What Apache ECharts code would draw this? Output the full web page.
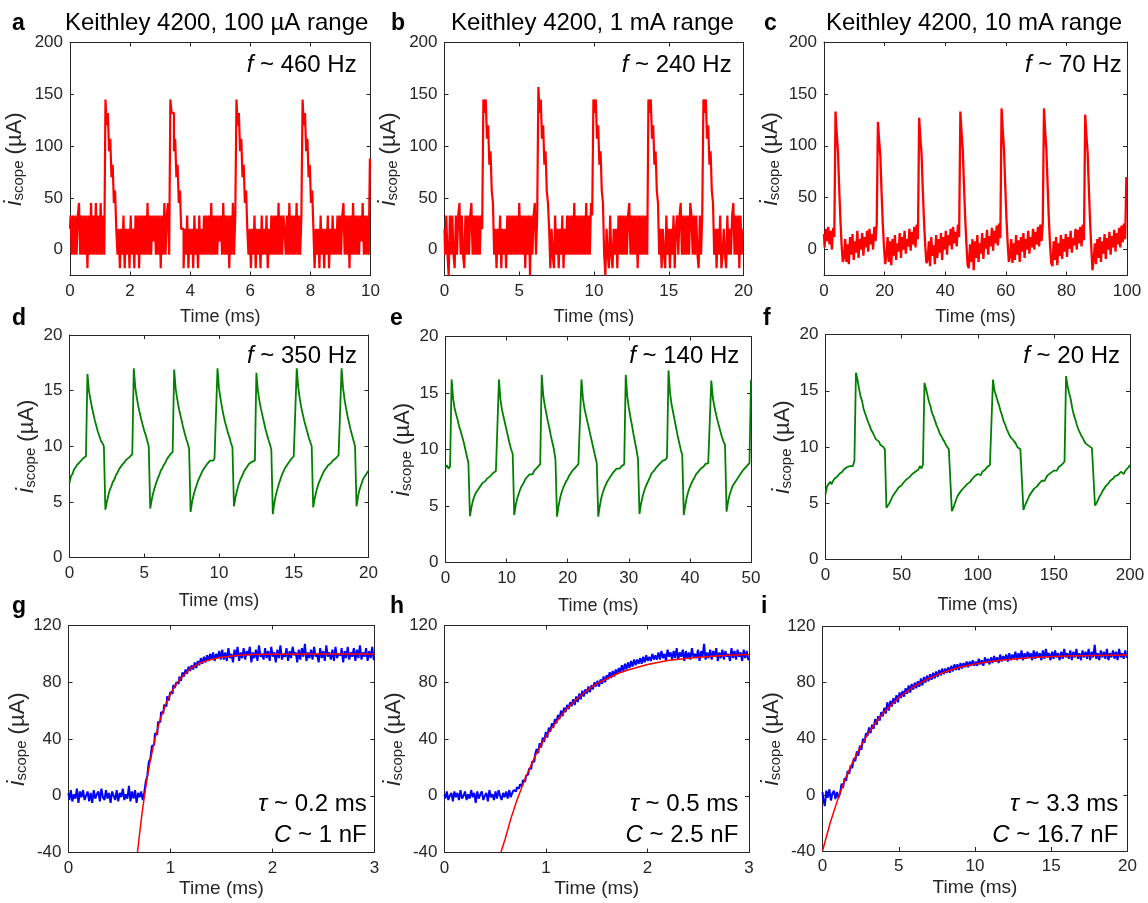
<!DOCTYPE html>
<html>
<head>
<meta charset="utf-8">
<script src="https://cdn.jsdelivr.net/npm/echarts@6/dist/echarts.min.js"></script>
<style>
  html, body { margin: 0; padding: 0; background: #ffffff; }
  #chart { width: 1148px; height: 903px; }
</style>
</head>
<body>
<div id="chart"></div>
<script>
// ---------- scope traces (current in µA), sampled at a fixed time step (ms) ----------

// a: 100 µA range
const stepA = 0.04;
const currentA = [20,33,-5,33,-5,33,-5,33,45,-5,33,-5,33,-5,33,-18,33,-5,45,-5,33,-5,45,-5,33,-5,45,-5,33,-5,
  145,120,132,95,107,70,82,45,57,20,
  -5,20,-18,20,-5,33,-18,20,-5,20,-18,33,-5,20,-18,33,-5,33,-18,33,
  -5,33,-5,33,-5,45,-5,33,-5,33,8,33,-5,33,-5,33,-18,33,-5,45,-5,33,45,-5,
  145,132,132,95,107,70,82,45,57,20,
  20,-18,20,-5,33,-18,20,-5,20,-18,33,-5,20,-18,33,-5,20,-5,33,-5,
  33,-5,33,-5,45,-5,33,-5,33,-5,33,8,33,-5,45,-5,33,-5,33,-18,33,-5,45,-5,33,
  145,120,132,95,107,70,82,45,57,20,
  -5,20,-18,20,-5,33,-18,20,-5,20,-18,33,-5,20,-5,33,-18,20,-5,33,
  -5,33,-5,33,-5,45,-5,33,-5,33,20,-5,33,-5,45,-5,33,-5,33,-5,45,-5,33,-5,33,
  145,120,132,95,107,70,82,45,57,20,
  -18,20,-5,20,-18,33,-5,20,-18,20,-5,33,-18,20,-5,33,-5,20,-5,33,
  -5,33,-5,33,45,-5,33,-5,33,-18,33,-5,45,-5,33,-5,33,-5,33,8,45,-5,33,-5,33,-5,
  88];

// b: 1 mA range
const stepB = 0.08;
const currentB = [20,-5,33,-5,-25,33,-5,33,-5,-18,33,-5,33,45,-5,33,-5,-18,33,-5,33,-5,33,45,-5,33,-5,33,-5,33,-5,33,20,
  145,132,145,107,120,82,95,57,45,
  -5,20,-18,20,-5,33,-18,20,-5,20,-18,33,-5,33,
  -5,33,-5,33,-5,33,-5,45,-5,33,-5,33,-18,33,-5,33,-25,33,-5,33,45,-5,33,
  157,132,145,107,120,82,95,57,45,
  20,-18,20,-5,-18,33,-5,20,-18,20,-5,33,-18,20,
  -5,33,-5,33,-5,33,-5,45,-5,33,-5,33,-5,33,-5,33,-5,45,-5,33,-5,45,33,
  145,132,145,107,120,82,95,57,45,
  -5,-25,20,-5,-18,33,-5,-18,20,-5,20,-18,33,-5,
  33,-5,33,-5,33,-5,33,45,-5,33,-5,33,-5,33,-18,33,-5,33,-5,33,-5,33,-5,
  145,132,145,107,120,82,95,57,45,
  -5,20,-18,20,-5,-18,33,-5,20,-18,20,-5,33,-18,
  20,33,-5,33,45,-5,33,-5,33,-5,33,-5,45,33,-5,33,-5,33,-5,-18,33,-5,33,
  145,132,145,107,120,82,95,57,45,
  -5,20,-18,20,-5,33,-18,-5,20,-5,-18,33,-5,20,
  -5,33,45,-5,33,-5,33,-18,33,-5,20];

// c: 10 mA range
const stepC = 0.4;
const currentC = [15,2,20,8,22,5,18,0,21,12,
  133,112,95,60,30,5,-12,
  -8,10,-12,5,-14,12,-5,15,-10,8,-3,18,-8,10,0,16,-6,12,2,18,-2,20,5,15,0,22,8,25,
  123,105,90,55,25,2,-14,
  -5,12,-12,8,-15,10,-6,14,-10,6,-2,16,-8,12,0,18,-4,10,3,20,-1,17,5,22,2,24,10,
  127,108,92,58,28,4,-13,
  -10,8,-16,12,-6,4,-14,14,-8,10,-3,16,-10,12,0,18,-5,14,4,20,0,22,6,17,3,24,12,
  133,113,96,62,30,6,-15,
  -18,5,-12,10,-20,8,-8,14,-12,6,-4,16,-9,11,1,19,-5,13,3,21,-1,18,6,23,4,25,11,
  136,115,97,63,31,7,-12,
  -7,10,-13,6,-10,14,-5,9,-12,12,-2,16,-8,10,0,18,-4,12,2,20,0,17,5,22,3,24,8,26,
  136,114,96,62,30,5,-13,
  -16,8,-10,12,-15,6,-6,14,-9,10,-2,15,-7,12,1,18,-3,11,4,20,0,19,6,22,3,24,9,
  130,110,94,60,28,3,-20,
  -10,6,-14,10,-8,12,-12,8,-4,15,-9,11,0,17,-5,13,2,19,-2,16,5,21,2,23,7,25,10,
  70];

// d: 100 µA range, slower sweep
const stepD = 0.1;
const currentD = [6.7,7.3,7.5,7.9,8.0,8.3,8.2,8.6,8.5,8.9,8.8,9.1,
  16.5,15.0,14.2,13.5,12.9,12.3,11.8,11.3,10.9,10.5,10.3,10.0,
  4.3,5.0,5.6,6.1,6.4,6.8,7.0,7.4,7.6,7.9,8.0,8.3,8.4,8.6,8.8,8.7,9.0,9.1,9.3,
  17.0,15.3,14.4,13.6,13.0,12.4,11.9,11.4,11.0,10.5,10.0,
  4.4,5.2,5.8,6.3,6.7,7.1,7.4,7.8,8.0,8.3,8.5,8.8,9.0,9.2,9.3,9.5,
  16.9,15.2,14.3,13.5,12.9,12.3,11.7,11.2,10.7,10.3,9.8,
  4.1,5.0,5.6,6.1,6.5,6.9,7.2,7.5,7.8,8.0,8.2,8.4,8.5,8.7,8.8,8.7,8.9,9.0,
  17.0,15.2,14.3,13.5,12.8,12.2,11.7,11.2,10.8,10.3,9.9,
  4.6,5.4,6.0,6.5,6.9,7.2,7.5,7.8,8.0,8.2,8.4,8.3,8.6,8.5,8.7,
  16.6,15.0,14.1,13.4,12.8,12.2,11.6,11.1,10.6,10.2,9.7,
  3.9,4.9,5.6,6.1,6.6,7.0,7.4,7.7,8.0,8.2,8.4,8.6,8.8,8.9,9.1,9.2,
  17.0,15.3,14.3,13.5,12.9,12.3,11.8,11.3,10.8,10.4,10.0,
  4.5,5.3,5.9,6.4,6.8,7.1,7.4,7.7,7.9,8.1,8.3,8.2,8.5,8.7,8.6,8.9,9.0,9.2,9.3,
  17.0,15.2,14.2,13.4,12.7,12.1,11.5,11.0,10.5,10.0,
  4.6,5.5,6.1,6.5,6.9,7.2,7.4,7.6,7.8];

// e: 1 mA range
const stepE = 0.25;
const currentE = [8.4,8.6,8.3,8.5,
  16.2,14.5,13.6,13.1,12.6,12.0,11.6,11.1,10.6,10.0,9.4,8.8,
  4.1,4.9,5.5,5.9,6.2,6.4,6.6,6.8,7.0,6.9,7.2,7.4,7.3,7.6,7.7,7.9,7.8,8.1,8.2,
  16.2,14.4,13.5,12.9,12.3,11.7,11.1,10.5,10.0,9.6,
  4.2,5.1,5.7,6.1,6.5,6.8,7.0,7.3,7.5,7.6,7.8,7.9,7.8,8.1,8.2,8.4,8.3,8.7,
  16.6,14.8,13.9,13.2,12.5,11.9,11.2,10.6,10.0,9.1,
  4.05,5.0,5.7,6.2,6.6,6.9,7.2,7.4,7.7,7.9,8.1,8.2,8.4,8.5,8.7,8.8,
  16.2,14.5,13.6,13.0,12.4,11.8,11.2,10.6,10.0,9.4,8.8,
  4.05,5.0,5.7,6.2,6.6,6.9,7.2,7.4,7.6,7.8,8.0,8.1,8.3,8.4,8.3,8.5,8.6,8.7,
  16.6,14.7,13.7,12.9,12.2,11.4,10.7,10.0,9.2,
  4.3,5.2,5.8,6.3,6.7,7.0,7.3,7.6,7.9,8.0,8.2,8.4,8.5,8.7,8.8,9.0,8.9,9.1,9.3,
  17.0,15.0,14.0,13.3,12.6,11.9,11.2,10.6,10.0,9.5,
  4.2,5.1,5.8,6.3,6.7,7.0,7.3,7.5,7.8,7.9,8.1,8.3,8.4,8.5,8.7,8.6,8.8,8.9,
  16.1,14.6,13.8,13.2,12.6,12.1,11.6,11.1,10.7,10.4,
  4.5,5.4,6.0,6.4,6.8,7.0,7.2,7.3,7.6,7.8,8.0,8.2,8.3,8.5,8.6,8.8,
  16.2];

// f: 10 mA range
const stepF = 1;
const currentF = [5.8,6.5,6.6,6.9,6.7,7.0,7.2,7.1,7.4,7.6,7.5,7.8,8.0,7.9,8.2,8.1,8.3,8.4,8.3,8.8,
  16.6,16.0,15.2,14.5,14.1,13.4,13.0,12.6,12.2,11.9,11.5,11.3,11.0,10.7,10.8,10.5,10.2,10.3,10.0,9.8,
  4.6,4.8,5.0,5.3,5.6,5.8,6.0,6.2,6.4,6.3,6.6,6.8,6.9,7.1,7.0,7.3,7.4,7.6,7.5,7.8,7.9,8.0,8.3,8.1,8.4,
  15.7,15.2,14.6,14.0,13.6,13.0,12.7,12.3,11.9,11.6,11.2,11.0,10.7,10.5,10.2,10.0,9.8,9.7,
  4.3,4.6,5.0,5.4,5.7,5.9,6.1,6.2,6.4,6.5,6.7,6.8,6.9,7.1,7.2,7.4,7.3,7.6,7.7,7.5,7.8,7.9,8.0,8.2,8.1,8.4,8.3,
  16.0,15.0,14.6,14.1,13.7,13.2,12.8,12.3,12.0,11.6,11.3,11.0,10.8,10.9,10.5,10.3,10.0,10.1,9.8,9.8,
  4.4,4.8,5.1,5.4,5.7,5.9,6.1,6.3,6.2,6.5,6.7,6.8,7.0,7.1,7.0,7.3,7.5,7.6,7.7,7.8,7.9,8.0,7.9,8.2,8.1,8.4,8.5,8.7,
  16.3,15.4,14.8,14.3,13.5,12.9,12.5,12.0,11.6,11.3,11.0,10.8,10.5,10.3,10.4,10.1,10.0,9.9,9.8,
  4.8,5.0,5.3,5.6,5.8,6.1,6.3,6.5,6.6,6.8,7.0,7.1,7.2,7.4,7.3,7.5,7.6,7.8,7.7,7.6,7.9,8.0,8.2,8.4];

// g, h, i: step response traces and their exponential fits
const stepG = 0.015;
const currentG = [2,-3,4,-4,1,-2,5,-5,3,-1,4,-3,0,3,-4,2,-5,4,-2,1,3,-4,5,-1,-3,4,-2,2,-5,3,0,-3,4,-4,2,-1,5,-3,1,-2,7,-4,3,-2,4,-5,2,-1,3,-3,
  2,10,14,24,26,35,36,44,43,52,52,59,58,64,63,70,67,73,72,78,76,
  80,79,84,81,87,84,89,86,91,88,92,89,94,90,95,92,97,93,98,94,99,95,100,96,101,95,100,97,102,96,
  103,96,101,95,104,97,100,94,103,98,105,95,101,97,104,96,102,99,105,94,101,97,103,95,106,98,100,96,104,97,
  102,95,105,98,101,94,103,97,106,96,100,98,104,95,102,97,105,99,101,94,103,96,104,98,107,95,101,97,103,96,
  105,98,100,94,104,97,102,95,106,98,101,96,103,95,105,97,100,99,104,94,102,97,105,96,101,98,104,95,103,97,
  106,96,101,98,104,95,102,97,105,96];
const fitG = [[0.676,-40],[0.70,-25],[0.72,-13],[0.745,0],[0.77,12],[0.80,24],[0.85,41],[0.90,54],[0.95,64],[1.00,72],
  [1.05,78],[1.10,83],[1.20,90],[1.30,94],[1.40,96],[1.50,97.7],[1.65,98.9],[1.80,99.5],[2.00,99.8],[2.50,100],[3.00,100]];

const stepH = 0.015;
const currentH = [1,-2,3,-3,0,2,-4,3,-1,2,-3,4,-2,0,3,-3,1,-2,4,-1,2,-5,3,-2,1,3,-3,0,2,-4,4,-1,1,-3,3,-2,4,0,-3,2,-1,3,-2,4,-1,
  2,4,3,6,5,8,7,11,10,14,15,19,19,24,24,29,
  33,30,37,34,41,38,45,41,48,45,51,48,54,51,57,54,60,56,62,59,64,61,66,63,68,64,70,66,72,68,74,70,75,72,77,73,78,75,80,77,
  81,77,82,79,84,80,85,82,87,83,88,84,89,86,90,87,92,88,93,89,94,90,95,91,96,92,96,93,97,93,98,94,99,95,98,95,100,96,99,96,
  101,96,102,97,100,95,103,98,101,96,102,97,104,96,101,98,103,95,102,97,101,96,104,98,100,97,103,95,102,98,
  107,96,101,97,103,96,102,98,104,95,101,97,103,96,102,98,100,95,104,97,102,96,103,98,101,95,103,97,102,96];
const fitH = [[0.555,-40],[0.60,-30],[0.65,-17],[0.70,-6],[0.73,0],[0.80,13],[0.90,29],[1.00,42],[1.10,52],[1.20,61],
  [1.30,68],[1.40,74],[1.50,79],[1.60,82.5],[1.70,86],[1.80,88.5],[2.00,92.5],[2.20,95.3],[2.40,97],[2.60,98.2],[2.80,99],[3.00,99.6]];

const stepI = 0.1;
const currentI = [2,-3,-8,3,-2,4,-4,1,3,-3,2,-2,
  1,8,5,12,10,17,15,21,19,26,24,31,28,35,32,40,37,44,42,
  48,44,50,47,54,50,56,53,59,56,62,58,66,60,67,63,69,65,71,66,73,69,74,70,76,72,78,73,79,75,
  80,76,81,77,83,78,84,80,85,81,86,82,87,83,88,84,89,85,90,86,90,87,91,87,92,88,93,89,93,89,94,90,94,91,95,91,95,92,96,92,
  95,92,97,93,96,92,98,94,97,93,98,94,99,95,98,94,100,95,99,96,
  100,95,101,96,100,97,102,96,101,97,103,96,101,97,102,98,101,96,103,97,
  102,98,101,96,103,97,104,98,101,96,102,97,103,98,101,96,102,97,104,98,
  101,97,103,96,102,98,104,97,101,96,103,98,102,97,104,96,102,98,107,97,
  101,96,103,98,102,97,104,96,101,98,103,97,102,96,104,98,101,97,103,98];
const fitI = [[0,-40],[0.5,-20],[1.1,0],[1.5,11.4],[2,23.9],[2.5,34.6],[3,43.8],[3.5,51.7],[4,58.5],[5,69.4],[6,77.3],
  [7,83.2],[8,87.6],[9,90.9],[10,93.3],[11,95.0],[12,96.3],[14,98.0],[16,98.9],[18,99.4],[20,99.7]];

// ---------- text ----------
const rowTitles = ['Keithley 4200, 100 µA range', 'Keithley 4200, 1 mA range', 'Keithley 4200, 10 mA range'];
const freqLabels = ['460', '240', '70', '350', '140', '20'];
const tauLabels = ['0.2', '0.5', '3.3'];
const capLabels = ['1', '2.5', '16.7'];
const panelLetters = ['a', 'b', 'c', 'd', 'e', 'f', 'g', 'h', 'i'];
const ticksTopRow = [0, 50, 100, 150, 200];

// ---------- layout ----------
const FONT = 'Arial, "Liberation Sans", Helvetica, sans-serif';
const INK = '#262626';
const RED = '#ff0000', GREEN = '#007f00', BLUE = '#0000ff';

// plot boxes: [left, top, right, bottom]
const boxes = [
  [70, 42.5, 370.5, 275.5], [444.5, 42.5, 743.5, 275.5], [824, 42, 1127, 275.5],
  [69.5, 335, 368.5, 557.5], [445.5, 336.5, 751, 562.5], [825.5, 334.5, 1130, 559.5],
  [68.5, 625.5, 374.5, 852.5], [444.5, 625.5, 749, 852.5], [822.5, 626.5, 1127.5, 851]
];
const xRanges = [[0,10,2],[0,20,5],[0,100,20],[0,20,5],[0,50,10],[0,200,50],[0,3,1],[0,3,1],[0,20,5]];
const yRanges = [[-25,200],[-25,200],[-25,200],[0,20,5],[0,20,5],[0,20,5],[-40,120,40],[-40,120,40],[-40,120,40]];
const xNameGap = [33,33,33,35,35,37,27,27,27];
const xNameSize = [18,18,18,18,18,18,19,19,19];
const yNameGap = [44,44,42,31,31,31,31,31,31];

function sampled(values, step) {
  return values.map((v, i) => [Math.round(i * step * 10000) / 10000, v]);
}

const traces = [
  [{ data: sampled(currentA, stepA), color: RED, width: 2.2, held: true }],
  [{ data: sampled(currentB, stepB), color: RED, width: 2.2, held: true }],
  [{ data: sampled(currentC, stepC), color: RED, width: 2.3, held: true }],
  [{ data: sampled(currentD, stepD), color: GREEN, width: 1.8 }],
  [{ data: sampled(currentE, stepE), color: GREEN, width: 1.8 }],
  [{ data: sampled(currentF, stepF), color: GREEN, width: 1.8 }],
  [{ data: sampled(currentG, stepG), color: BLUE, width: 2.0, held: true }, { data: fitG, color: RED, width: 1.5 }],
  [{ data: sampled(currentH, stepH), color: BLUE, width: 2.0, held: true }, { data: fitH, color: RED, width: 1.5 }],
  [{ data: sampled(currentI, stepI), color: BLUE, width: 2.0, held: true }, { data: fitI, color: RED, width: 1.5 }]
];

const grids = [], xAxes = [], yAxes = [], series = [];
const tickStyle = { show: true, inside: true, length: 4, lineStyle: { color: INK, width: 1 } };
const lineStyleAxis = { show: true, onZero: false, lineStyle: { color: INK, width: 1 } };
const labelStyle = { color: INK, fontSize: 17, fontFamily: FONT };

boxes.forEach((b, k) => {
  grids.push({ left: b[0], top: b[1], width: b[2] - b[0], height: b[3] - b[1], containLabel: false });
  const xr = xRanges[k], yr = yRanges[k];
  const xBase = { type: 'value', gridIndex: k, min: xr[0], max: xr[1], interval: xr[2], splitLine: { show: false },
    axisLine: lineStyleAxis, axisTick: tickStyle };
  xAxes.push(Object.assign({}, xBase, {
    position: 'bottom',
    axisLabel: Object.assign({ margin: 7 }, labelStyle),
    name: 'Time (ms)', nameLocation: 'middle', nameGap: xNameGap[k],
    nameTextStyle: { color: INK, fontSize: xNameSize[k], fontFamily: FONT }
  }));
  xAxes.push(Object.assign({}, xBase, { position: 'top', axisLabel: { show: false } }));

  const yBase = { type: 'value', gridIndex: k, min: yr[0], max: yr[1], splitLine: { show: false }, axisLine: lineStyleAxis };
  let tickCfg, labCfg;
  if (yr.length === 2) {
    tickCfg = Object.assign({}, tickStyle, { customValues: ticksTopRow });
    labCfg = Object.assign({ margin: 7, customValues: ticksTopRow }, labelStyle);
  } else {
    yBase.interval = yr[2];
    tickCfg = tickStyle;
    labCfg = Object.assign({ margin: 7 }, labelStyle);
  }
  yAxes.push(Object.assign({}, yBase, {
    position: 'left', axisTick: tickCfg, axisLabel: labCfg,
    name: '{i|i}{s|scope} (µA)', nameLocation: 'middle', nameRotate: 90, nameGap: yNameGap[k],
    nameTextStyle: {
      color: INK, fontSize: 22, fontFamily: FONT,
      rich: {
        i: { fontSize: 23, fontStyle: 'italic', fontFamily: FONT, color: INK },
        s: { fontSize: 15, fontFamily: FONT, color: INK, verticalAlign: 'bottom', lineHeight: 17 }
      }
    }
  }));
  yAxes.push(Object.assign({}, yBase, { position: 'right', axisTick: tickCfg, axisLabel: { show: false } }));

  traces[k].forEach(tr => {
    series.push({
      type: 'line', xAxisIndex: 2 * k, yAxisIndex: 2 * k, data: tr.data,
      step: tr.held ? 'middle' : false, sampling: 'none',
      showSymbol: false, symbol: 'none', silent: true, animation: false, clip: true,
      lineStyle: { color: tr.color, width: tr.width }, itemStyle: { color: tr.color }
    });
  });
});

// ---------- annotations ----------
function txt(text, x, baseline, size, align, extra) {
  const style = Object.assign({
    text: text, x: 0, y: 0, fill: '#000000', fontSize: size, fontFamily: FONT,
    align: align, textAlign: align, verticalAlign: 'middle', textVerticalAlign: 'middle'
  }, extra || {});
  return { type: 'text', x: x, y: baseline - 0.35 * size, silent: true, style: style };
}
function richNote(italicPart, rest, right, baseline) {
  const size = 24;
  return txt('{it|' + italicPart + '}{n|' + rest + '}', right, baseline, size, 'right', {
    rich: {
      it: { fontSize: size, fontFamily: FONT, fontStyle: 'italic', fill: '#000000' },
      n: { fontSize: size, fontFamily: FONT, fill: '#000000' }
    }
  });
}

const graphics = [];
const titleCenters = [216.7, 592.5, 974];
rowTitles.forEach((t, k) => graphics.push(txt(t, titleCenters[k], 31.7, 24, 'center')));

const letterPos = [[12, 31.7], [391, 31.7], [764, 31.7], [12, 326.5], [390, 326.5], [763, 326.5], [12, 615], [390, 615], [761, 615]];
panelLetters.forEach((l, k) => graphics.push(txt(l, letterPos[k][0], letterPos[k][1], 23, 'left', { fontWeight: 'bold' })));

const freqPos = [[356.7, 74], [731.7, 74], [1121.7, 74], [357, 365], [739.3, 365], [1120, 365]];
freqLabels.forEach((f, k) => graphics.push(richNote('f', ' ~ ' + f + ' Hz', freqPos[k][0], freqPos[k][1])));

const tauRight = [366.7, 738.3, 1118.3];
tauLabels.forEach((t, k) => {
  graphics.push(richNote('τ', ' ~ ' + t + ' ms', tauRight[k], 812.7));
  graphics.push(richNote('C', ' ~ ' + capLabels[k] + ' nF', tauRight[k], 843.3));
});

const chart = echarts.init(document.getElementById('chart'), null, { renderer: 'canvas', width: 1148, height: 903 });
chart.setOption({
  backgroundColor: '#ffffff',
  animation: false,
  grid: grids,
  xAxis: xAxes,
  yAxis: yAxes,
  series: series,
  graphic: { elements: graphics }
});
</script>
</body>
</html>
